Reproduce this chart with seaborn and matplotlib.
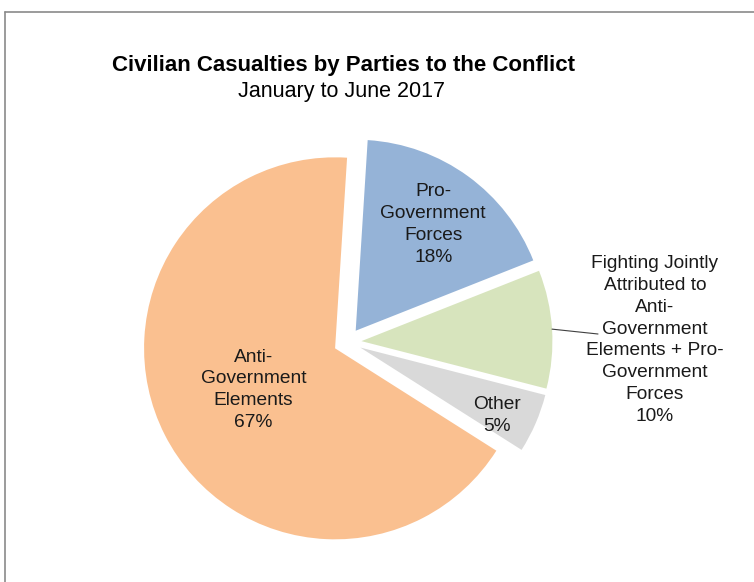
import numpy as np
import matplotlib
matplotlib.use("Agg")
import matplotlib.pyplot as plt
from matplotlib.lines import Line2D
import seaborn as sns

# Civilian casualties by party, January to June 2017 (percent)
parties = [
    "Pro-\nGovernment\nForces",
    "Fighting Jointly\nAttributed to\nAnti-\nGovernment\nElements + Pro-\nGovernment\nForces",
    "Other",
    "Anti-\nGovernment\nElements",
]
shares = [18, 10, 5, 67]
colors = ["#95B3D7", "#D7E4BD", "#D9D9D9", "#FAC090"]
explode_frac = [0.073, 0.073, 0.073, 0.073]

sns.set_theme(style="white")
plt.rcParams["font.family"] = ["Liberation Sans", "DejaVu Sans"]

W, H = 754, 582
fig = plt.figure(figsize=(W / 100, H / 100), dpi=100)
ax = fig.add_axes([0, 0, 1, 1])

cx, cy, R = 347.5, H - 342, 191
wedges, _ = ax.pie(
    shares,
    colors=colors,
    explode=[e * R for e in explode_frac],
    startangle=86.4,
    counterclock=False,
    center=(cx, cy),
    radius=R,
    wedgeprops=dict(linewidth=0),
)
ax.set_xlim(0, W)
ax.set_ylim(0, H)
ax.set_aspect("equal")
ax.axis("off")

def label_point(w, frac, dtheta=0.0):
    ang = np.deg2rad((w.theta1 + w.theta2) / 2 + dtheta)
    x0, y0 = w.center
    return x0 + frac * R * np.cos(ang), y0 + frac * R * np.sin(ang)

fs = 13.8
ls = 1.38
# inside labels: (slice, radial fraction, angular nudge in degrees)
for i, frac, dth in [(0, 0.69, 0.0), (2, 0.80, -3.0), (3, 0.48, 0.0)]:
    x, y = label_point(wedges[i], frac, dth)
    ax.text(x, y, f"{parties[i]}\n{shares[i]}%", ha="center", va="center",
            multialignment="center", fontsize=fs, color="#1a1a1a", linespacing=ls)

# outside label with leader line
ex, ey = label_point(wedges[1], 1.0)
ax.plot([ex, 598], [ey, H - 334], color="#404040", lw=0.8)
ax.text(655, H - 340, f"{parties[1]}\n{shares[1]}%", ha="center", va="center",
        multialignment="center", fontsize=fs, color="#1a1a1a", linespacing=ls)

# titles
fig.text(343 / W, 1 - 65 / H, "Civilian Casualties by Parties to the Conflict",
         ha="center", va="center", fontsize=16, fontweight="bold", color="black")
fig.text(342 / W, 1 - 91 / H, "January to June 2017",
         ha="center", va="center", fontsize=15.5, color="black")

# chart frame
fig.add_artist(Line2D([5 / W, 1.0], [1 - 12 / H, 1 - 12 / H], color="#8a8a8a", lw=1.2))
fig.add_artist(Line2D([5 / W, 5 / W], [1 - 12 / H, 0.0], color="#8a8a8a", lw=1.2))

fig.savefig("out.png", dpi=100, facecolor="white")
